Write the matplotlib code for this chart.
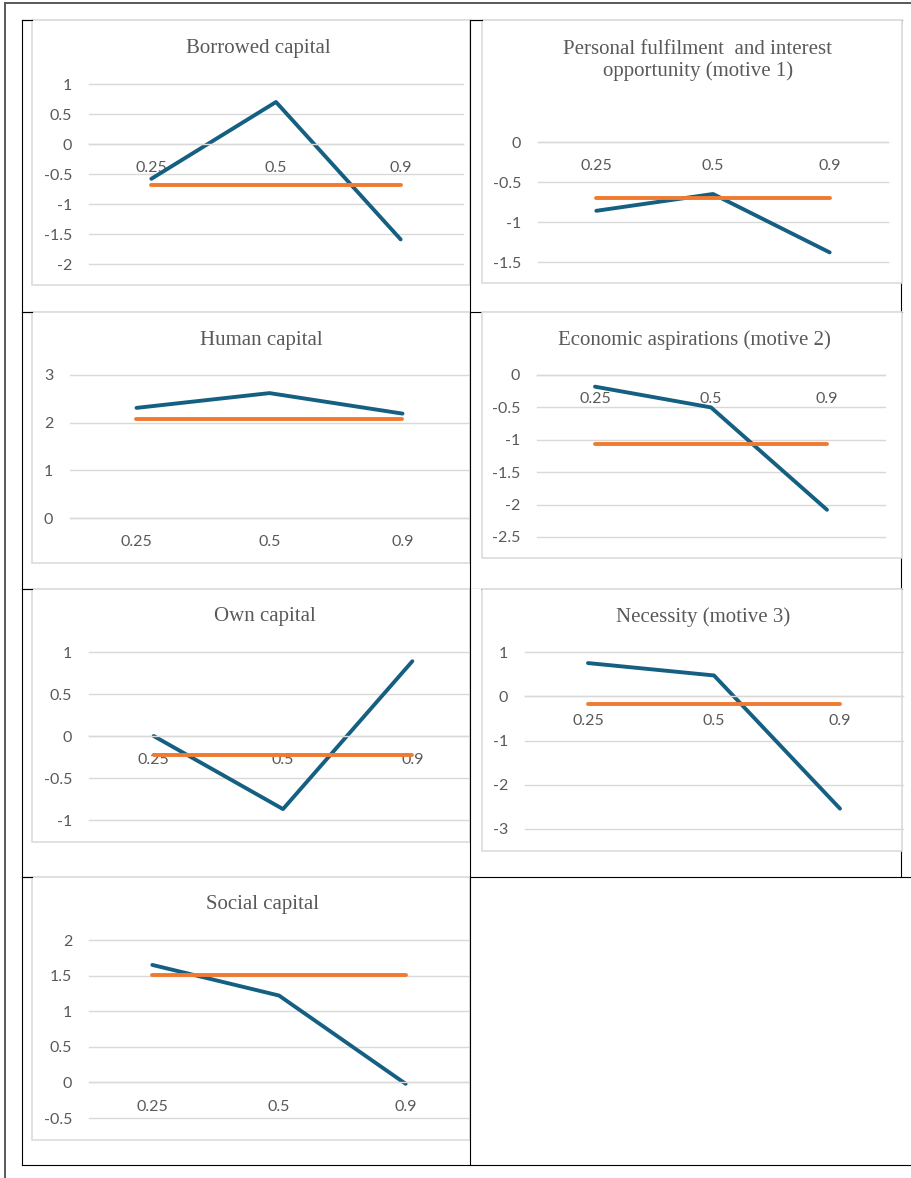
import matplotlib
matplotlib.use("Agg")
from matplotlib import pyplot as plt
from matplotlib.lines import Line2D
from matplotlib.patches import Rectangle
from matplotlib.ticker import MultipleLocator, FuncFormatter

# quantile regression coefficients (blue) against the OLS estimate (orange)
quantiles = ["0.25", "0.5", "0.9"]

borrowed_q = [-0.58, 0.70, -1.59]
borrowed_ols = [-0.69, -0.69, -0.69]

personal_q = [-0.86, -0.65, -1.38]
personal_ols = [-0.70, -0.70, -0.70]

human_q = [2.31, 2.62, 2.19]
human_ols = [2.08, 2.08, 2.08]

economic_q = [-0.18, -0.50, -2.08]
economic_ols = [-1.06, -1.06, -1.06]

own_q = [0.0, -0.87, 0.89]
own_ols = [-0.23, -0.23, -0.23]

necessity_q = [0.75, 0.47, -2.54]
necessity_ols = [-0.17, -0.17, -0.17]

social_q = [1.65, 1.22, -0.02]
social_ols = [1.51, 1.51, 1.51]

W, H = 912, 1178
BLUE = "#156082"
ORANGE = "#F07A30"
GREY = "#595959"
GRID = "#D9D9D9"


def fx(x):
    return x / W


def fy(y):
    return 1 - y / H


def hline(fig, x0, x1, y, color="black", lw=0.8, z=-2):
    fig.add_artist(Line2D([fx(x0), fx(x1)], [fy(y), fy(y)], color=color, lw=lw,
                          transform=fig.transFigure, zorder=z))


def vline(fig, x, y0, y1, color="black", lw=0.8, z=-2):
    fig.add_artist(Line2D([fx(x), fx(x)], [fy(y0), fy(y1)], color=color, lw=lw,
                          transform=fig.transFigure, zorder=z))


def panel(fig, title, q, ols, ylim, step, box, area, title_xy):
    # white chart box with light border, like the pasted Excel charts
    bx0, by0, bx1, by1 = box
    fig.add_artist(Rectangle((fx(bx0), fy(by1)), fx(bx1) - fx(bx0), fy(by0) - fy(by1),
                             transform=fig.transFigure, facecolor="white",
                             edgecolor=GRID, lw=1.1, zorder=-1))
    x0, y0, x1, y1 = area
    ax = fig.add_axes([fx(x0), fy(y1), fx(x1) - fx(x0), fy(y0) - fy(y1)])
    ax.set_facecolor("none")
    xs = range(len(quantiles))
    ax.plot(xs, q, color=BLUE, lw=2.8, solid_capstyle="round", solid_joinstyle="round")
    ax.plot(xs, ols, color=ORANGE, lw=2.8, solid_capstyle="round")
    ax.set_xlim(-0.5, len(quantiles) - 0.5)
    ax.set_ylim(*ylim)
    ax.yaxis.set_major_locator(MultipleLocator(step))
    ax.yaxis.set_major_formatter(FuncFormatter(lambda v, p: f"{v:g}"))
    ax.set_xticks(list(xs))
    ax.set_xticklabels(quantiles)
    ax.grid(axis="y", color=GRID, lw=1.0)
    ax.set_axisbelow(True)
    for s in ["left", "right", "top"]:
        ax.spines[s].set_visible(False)
    ax.spines["bottom"].set_position(("data", 0))
    ax.spines["bottom"].set_color(GRID)
    ax.spines["bottom"].set_linewidth(1.0)
    ax.tick_params(axis="x", length=0, pad=12.5, labelcolor=GREY, labelsize=11.5)
    ax.tick_params(axis="y", length=0, pad=12, labelcolor=GREY, labelsize=11.5)
    for lab in ax.get_xticklabels() + ax.get_yticklabels():
        lab.set_fontfamily("Lato")
    # keep the gridlines on the axes edges at full width
    for t in ax.yaxis.get_major_ticks():
        t.gridline.set_clip_on(False)
    fig.text(fx(title_xy[0]), fy(title_xy[1]), title, ha="center", va="center",
             family="Liberation Serif", fontsize=15, color=GREY, linespacing=1.2)
    return ax


fig = plt.figure(figsize=(W / 100, H / 100), dpi=100)

# outer page frame
hline(fig, 5, W, 3, color=GREY, lw=1.4, z=-3)
vline(fig, 5, 3, H, color=GREY, lw=1.4, z=-3)

# table grid (mostly hidden behind the charts)
hline(fig, 22, 902, 20)
hline(fig, 22, 902, 311.5)
hline(fig, 22, 902, 589)
hline(fig, 22, W, 877)
vline(fig, 901.5, 20, 877)

panel(fig, "Borrowed capital", borrowed_q, borrowed_ols, (-2, 1), 0.5,
      (32, 20, 470, 285), (89, 84, 463, 264), (258, 48))
panel(fig, "Personal fulfilment  and interest\nopportunity (motive 1)", personal_q, personal_ols,
      (-1.5, 0), 0.5, (482, 20, 902, 283), (538, 142, 888, 262), (698, 60.5))
panel(fig, "Human capital", human_q, human_ols, (0, 3), 1,
      (32, 311.5, 470, 563), (70, 375, 469, 518), (261, 340))
panel(fig, "Economic aspirations (motive 2)", economic_q, economic_ols, (-2.5, 0), 0.5,
      (482, 311.5, 902, 558), (537, 375, 885, 537), (694, 340))
panel(fig, "Own capital", own_q, own_ols, (-1, 1), 0.5,
      (32, 589, 470, 842), (89, 652, 477, 820), (265, 616))
panel(fig, "Necessity (motive 3)", necessity_q, necessity_ols, (-3, 1), 1,
      (482, 589, 902, 851), (525, 652, 903, 829), (703, 617))
panel(fig, "Social capital", social_q, social_ols, (-0.5, 2), 0.5,
      (32, 877, 470, 1140), (89, 940, 469, 1118), (262, 904))

# strip between the cells, then the lines that sit on top of the charts
fig.add_artist(Rectangle((fx(471), fy(842)), fx(481) - fx(471), fy(589) - fy(842),
                         transform=fig.transFigure, facecolor="white", edgecolor="none", zorder=3))
vline(fig, 22.5, 20, 1164.5, z=5)
vline(fig, 470.5, 20, 1164.5, z=5)
for y in [20, 311.5, 589, 877]:
    hline(fig, 22, 32, y, z=5)
hline(fig, 470.5, 482, 20, z=5)
hline(fig, 22, W, 1164.5, z=5)

fig.savefig("out.png", dpi=100)
